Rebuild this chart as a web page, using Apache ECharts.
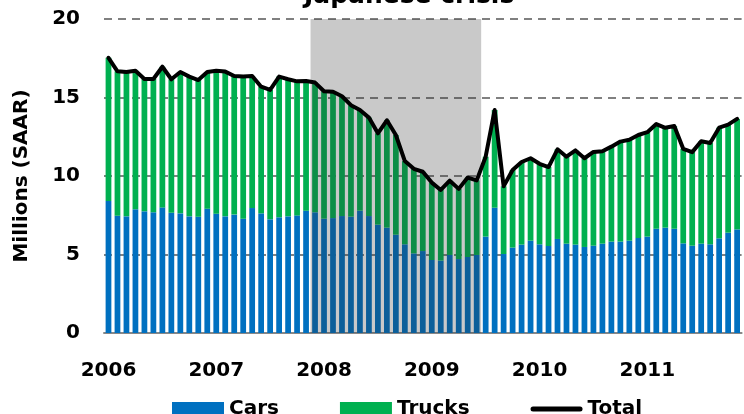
<!DOCTYPE html>
<html><head><meta charset="utf-8">
<script src="https://cdn.jsdelivr.net/npm/echarts@6/dist/echarts.min.js"></script>
<style>html,body{margin:0;padding:0;background:#fff}#c{width:744px;height:414px}</style>
</head><body><div id="c"></div>
<script>
const years = ['2006','2007','2008','2009','2010','2011'];
const monthNames = ['Jan','Feb','Mar','Apr','May','Jun','Jul','Aug','Sep','Oct','Nov','Dec'];
const cars = [8.41,7.47,7.43,7.88,7.75,7.69,8.00,7.66,7.62,7.43,7.41,7.92,
7.60,7.43,7.54,7.28,7.96,7.62,7.24,7.37,7.43,7.49,7.79,7.69,
7.28,7.32,7.45,7.41,7.79,7.45,6.90,6.71,6.26,5.65,5.07,5.22,
4.65,4.61,4.97,4.71,4.84,4.97,6.14,7.98,5.03,5.44,5.63,5.88,
5.65,5.54,5.99,5.69,5.63,5.48,5.56,5.69,5.82,5.82,5.88,6.05,
6.14,6.64,6.71,6.64,5.71,5.56,5.69,5.65,6.03,6.39,6.60];
const trucks = [9.12,9.20,9.19,8.82,8.43,8.49,8.96,8.50,9.00,8.90,8.70,8.70,
9.10,9.22,8.83,9.05,8.41,8.07,8.24,8.96,8.73,8.54,8.26,8.26,
8.12,8.05,7.63,7.10,6.41,6.27,5.82,6.84,6.35,5.30,5.39,5.05,
4.93,4.50,4.73,4.47,5.06,4.75,5.09,6.22,4.31,4.94,5.26,5.25,
5.13,5.03,5.71,5.54,6.00,5.65,5.97,5.89,6.05,6.37,6.43,6.56,
6.65,6.67,6.36,6.54,6.02,5.96,6.52,6.45,7.05,6.88,7.04];
const total = [17.53,16.67,16.62,16.70,16.18,16.18,16.96,16.16,16.62,16.33,16.11,16.62,
16.70,16.65,16.37,16.33,16.37,15.69,15.48,16.33,16.16,16.03,16.05,15.95,
15.40,15.37,15.08,14.51,14.20,13.72,12.72,13.55,12.61,10.95,10.46,10.27,
9.58,9.11,9.70,9.18,9.90,9.72,11.23,14.20,9.34,10.38,10.89,11.13,
10.78,10.57,11.70,11.23,11.63,11.13,11.53,11.58,11.87,12.19,12.31,12.61,
12.79,13.31,13.07,13.18,11.73,11.52,12.21,12.10,13.08,13.27,13.64];
const recession = ['Dec 2007', 'Jun 2009'];
const titleText = 'Japanese crisis';

const categories = [];
years.forEach(y => monthNames.forEach(m => categories.push(m + ' ' + y)));
categories.length = cars.length;
const recStart = categories.indexOf(recession[0]);
const recEnd = categories.indexOf(recession[1]) + 1;

const font = 'DejaVu Sans';
const lineIcon = 'path://M2.5,0 H49.5 A2.5,2.5 0 0 1 49.5,5 H2.5 A2.5,2.5 0 0 1 2.5,0 Z';
const chart = echarts.init(document.getElementById('c'), null, {renderer: 'canvas'});
chart.setOption({
  animation: false,
  title: {text: titleText, left: 304, top: -16, padding: 0,
    textStyle: {fontFamily: font, fontWeight: 'bold', fontSize: 25, color: '#000'}},
  legend: {left: 172, top: 399, padding: 0, itemWidth: 52, itemHeight: 14, itemGap: 61,
    textStyle: {fontFamily: font, fontWeight: 'bold', fontSize: 20, color: '#000'},
    data: [{name: 'Cars', icon: 'rect'}, {name: 'Trucks', icon: 'rect'}, {name: 'Total', icon: lineIcon}]},
  grid: {left: 104, right: 2.4, top: 19, bottom: 81},
  xAxis: [{
    type: 'category', data: categories, boundaryGap: true,
    axisLine: {lineStyle: {color: '#888', width: 2}},
    axisTick: {interval: 11, length: 6, lineStyle: {color: '#888', width: 2}},
    axisLabel: {interval: 11, margin: 28, formatter: v => v.split(' ')[1],
      fontFamily: font, fontWeight: 'bold', fontSize: 20, color: '#000'}
  }, {
    type: 'value', min: 0, max: categories.length, show: false
  }],
  yAxis: {
    type: 'value', min: 0, max: 20, interval: 5,
    name: 'Millions (SAAR)', nameLocation: 'middle', nameGap: 72,
    nameTextStyle: {fontFamily: font, fontWeight: 'bold', fontSize: 20, color: '#000'},
    axisLine: {show: false}, axisTick: {show: false},
    splitLine: {lineStyle: {type: [8, 6], color: '#808080', width: 2}},
    axisLabel: {margin: 24, fontFamily: font, fontWeight: 'bold', fontSize: 20, color: '#000'}
  },
  series: [
    {name: 'Cars', type: 'bar', stack: 'v', data: cars, barCategoryGap: '36%', z: 2,
      itemStyle: {color: '#0070C0'}},
    {name: 'Trucks', type: 'bar', stack: 'v', data: trucks, barCategoryGap: '36%', z: 2,
      itemStyle: {color: '#00B050'}},
    {name: 'Recession', type: 'line', xAxisIndex: 1, data: [], silent: true, z: 3,
      markArea: {silent: true, z: 3, itemStyle: {color: 'rgba(45,45,45,0.26)'},
        data: [[{xAxis: recStart, yAxis: 0}, {xAxis: recEnd, yAxis: 20}]]}},
    {name: 'Total', type: 'line', data: total, z: 5, symbol: 'none', showSymbol: false,
      lineStyle: {color: '#000', width: 4, cap: 'round', join: 'round'},
      itemStyle: {color: '#000'}}
  ]
});
</script></body></html>
